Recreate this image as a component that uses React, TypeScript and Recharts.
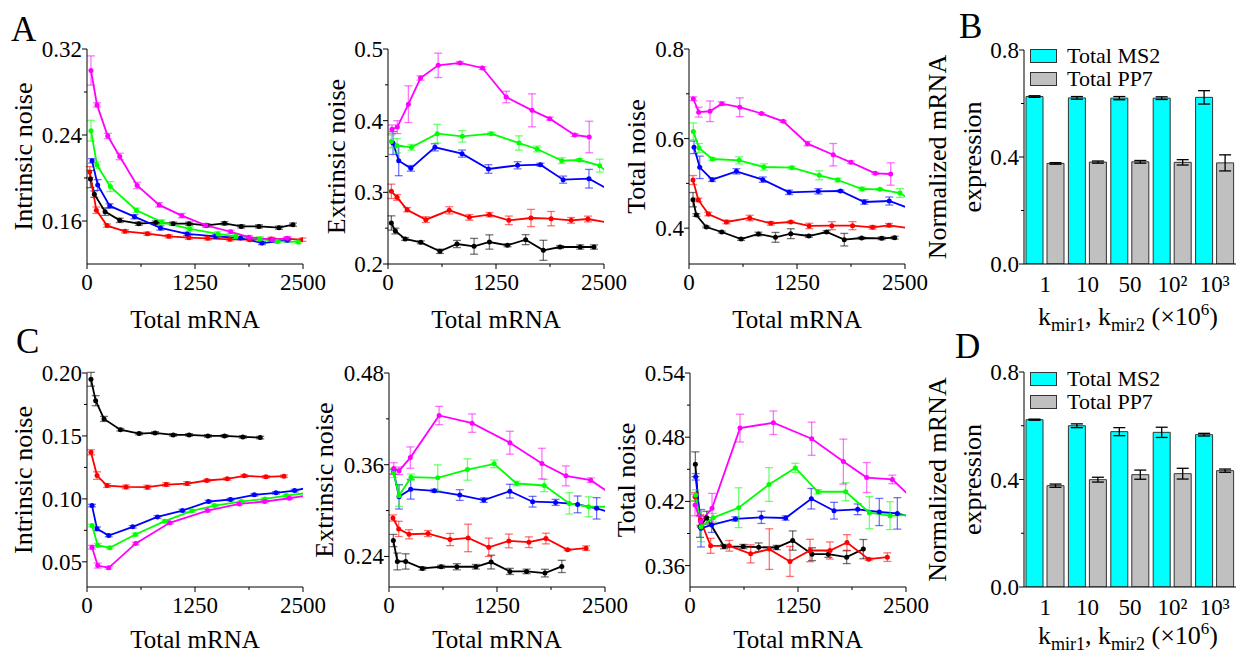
import React from 'react';
import { LineChart, Line, XAxis, YAxis, ErrorBar, BarChart, Bar, Legend } from 'recharts';

// [total mRNA, noise, error]
type Pt = [number, number, number];

const FONT = 'Liberation Serif, Tinos, DejaVu Serif, Times New Roman, serif';
const COL = { magenta: '#ff00ff', green: '#00ff00', blue: '#0000ff', red: '#ff0000', black: '#000000' };

const X_TICKS = [0, 625, 1250, 1875, 2500];
const X_MAJOR = [0, 1250, 2500];

// ---- A: intrinsic / extrinsic / total noise ----
const A1_MAGENTA: Pt[] = [[46, 0.300, 0.0136], [116, 0.268, 0.002], [240, 0.239, 0.0025], [379, 0.220, 0.003], [580, 0.193, 0.003], [835, 0.175, 0.002], [1097, 0.165, 0.002], [1376, 0.156, 0.0015], [1662, 0.150, 0.0015], [1874, 0.145, 0.0015], [2145, 0.1426, 0.0015], [2318, 0.1439, 0.0015]];
const A1_GREEN: Pt[] = [[46, 0.244, 0.0097], [116, 0.212, 0.003], [270, 0.192, 0.0046], [572, 0.170, 0.002], [866, 0.159, 0.002], [1190, 0.1526, 0.002], [1515, 0.148, 0.002], [1724, 0.1457, 0.002], [2002, 0.1433, 0.002], [2203, 0.141, 0.0015], [2446, 0.1405, 0.0015]];
const A1_BLUE: Pt[] = [[58, 0.216, 0.002], [124, 0.1935, 0.005], [263, 0.174, 0.002], [549, 0.164, 0.002], [850, 0.1535, 0.002], [1159, 0.148, 0.0015], [1488, 0.1457, 0.0015], [1777, 0.1442, 0.0015], [2025, 0.1395, 0.0015], [2318, 0.142, 0.0015]];
const A1_BLACK: Pt[] = [[40, 0.199, 0.008], [85, 0.185, 0.003], [209, 0.1687, 0.0035], [379, 0.1606, 0.002], [599, 0.1575, 0.0015], [796, 0.1585, 0.0015], [997, 0.1575, 0.0015], [1182, 0.1575, 0.0015], [1383, 0.156, 0.0015], [1592, 0.1578, 0.0015], [1785, 0.155, 0.0015], [1990, 0.155, 0.0015], [2222, 0.1538, 0.0015], [2384, 0.1566, 0.0015]];
const A1_RED: Pt[] = [[31, 0.2056, 0.005], [108, 0.170, 0.003], [232, 0.1557, 0.0015], [440, 0.1504, 0.0015], [699, 0.1482, 0.0015], [946, 0.1457, 0.0015], [1178, 0.1445, 0.0015], [1399, 0.1439, 0.0015], [1654, 0.143, 0.0015], [1886, 0.1426, 0.0015], [2133, 0.1433, 0.0015], [2318, 0.1433, 0.0015], [2493, 0.1426, 0.0015]];

const A2_MAGENTA: Pt[] = [[46, 0.388, 0.006], [108, 0.391, 0.009], [236, 0.423, 0.0256], [376, 0.4595, 0.003], [581, 0.4772, 0.017], [833, 0.4805, 0.002], [1093, 0.4735, 0.002], [1368, 0.433, 0.008], [1667, 0.4144, 0.023], [1872, 0.4028, 0.002], [2159, 0.380, 0.002], [2329, 0.3772, 0.022]];
const A2_GREEN: Pt[] = [[39, 0.371, 0.009], [105, 0.365, 0.01], [271, 0.3628, 0.004], [570, 0.3819, 0.013], [860, 0.3781, 0.008], [1194, 0.3819, 0.002], [1516, 0.3688, 0.01], [1725, 0.3605, 0.004], [2011, 0.3442, 0.004], [2217, 0.3451, 0.002], [2450, 0.3372, 0.009], [2560, 0.325, 0]];
const A2_BLUE: Pt[] = [[58, 0.3688, 0.016], [124, 0.3442, 0.021], [264, 0.3335, 0.004], [543, 0.3628, 0.005], [857, 0.354, 0.005], [1163, 0.3326, 0.006], [1500, 0.3377, 0.005], [1764, 0.3386, 0.002], [2027, 0.3177, 0.005], [2326, 0.319, 0.013], [2580, 0.302, 0]];
const A2_RED: Pt[] = [[39, 0.3014, 0.01], [105, 0.293, 0.004], [221, 0.2758, 0.003], [438, 0.2619, 0.004], [709, 0.2749, 0.005], [942, 0.2651, 0.004], [1174, 0.2688, 0.003], [1399, 0.2609, 0.006], [1655, 0.2642, 0.012], [1888, 0.2633, 0.01], [2120, 0.2609, 0.004], [2314, 0.2628, 0.004], [2580, 0.257, 0]];
const A2_BLACK: Pt[] = [[39, 0.2572, 0.01], [85, 0.246, 0.004], [198, 0.2349, 0.002], [380, 0.2302, 0.002], [601, 0.2177, 0.003], [798, 0.2279, 0.005], [996, 0.2247, 0.011], [1174, 0.2307, 0.01], [1384, 0.2261, 0.002], [1593, 0.234, 0.007], [1798, 0.2191, 0.014], [1992, 0.2237, 0.002], [2225, 0.2237, 0.003], [2384, 0.2237, 0.003]];

const A3_MAGENTA: Pt[] = [[50, 0.689, 0.004], [112, 0.659, 0.011], [243, 0.661, 0.023], [379, 0.678, 0.004], [587, 0.670, 0.021], [838, 0.656, 0.002], [1090, 0.6385, 0.002], [1372, 0.5887, 0.005], [1669, 0.564, 0.025], [1874, 0.547, 0.003], [2156, 0.5224, 0.002], [2334, 0.5209, 0.025]];
const A3_GREEN: Pt[] = [[50, 0.616, 0.019], [116, 0.579, 0.01], [270, 0.5544, 0.003], [580, 0.5514, 0.008], [866, 0.5366, 0.007], [1190, 0.5351, 0.003], [1507, 0.518, 0.01], [1723, 0.5075, 0.004], [2002, 0.4874, 0.004], [2210, 0.4867, 0.002], [2442, 0.4785, 0.01], [2560, 0.464, 0]];
const A3_BLUE: Pt[] = [[58, 0.5805, 0.014], [124, 0.5358, 0.025], [267, 0.5083, 0.004], [549, 0.5269, 0.006], [854, 0.5083, 0.006], [1159, 0.48, 0.005], [1496, 0.4822, 0.006], [1754, 0.483, 0.002], [2029, 0.4584, 0.005], [2318, 0.4606, 0.009], [2580, 0.442, 0]];
const A3_RED: Pt[] = [[46, 0.5075, 0.01], [108, 0.463, 0.004], [224, 0.4316, 0.004], [433, 0.4138, 0.004], [703, 0.4228, 0.006], [947, 0.4108, 0.004], [1178, 0.4138, 0.002], [1391, 0.4049, 0.006], [1654, 0.4056, 0.009], [1893, 0.4056, 0.009], [2125, 0.4019, 0.004], [2315, 0.4064, 0.004], [2580, 0.399, 0]];
const A3_BLACK: Pt[] = [[46, 0.4636, 0.016], [85, 0.4294, 0.003], [201, 0.4026, 0.002], [379, 0.3914, 0.002], [603, 0.3758, 0.003], [804, 0.387, 0.004], [1001, 0.3795, 0.011], [1178, 0.3877, 0.011], [1387, 0.3825, 0.003], [1592, 0.3914, 0.003], [1797, 0.3743, 0.014], [1998, 0.378, 0.002], [2230, 0.3773, 0.003], [2380, 0.3788, 0.003]];

// ---- C ----
const C1_BLACK: Pt[] = [[46, 0.195, 0.0055], [100, 0.178, 0.004], [197, 0.1635, 0.002], [386, 0.155, 0.001], [603, 0.1519, 0.001], [788, 0.1524, 0.001], [997, 0.1508, 0.001], [1182, 0.1508, 0.001], [1399, 0.150, 0.001], [1592, 0.150, 0.001], [1804, 0.1492, 0.001], [2005, 0.1487, 0.001]];
const C1_RED: Pt[] = [[46, 0.137, 0.002], [116, 0.1185, 0.003], [232, 0.1106, 0.0015], [452, 0.1095, 0.0015], [699, 0.1093, 0.0015], [916, 0.1114, 0.0015], [1159, 0.1122, 0.0015], [1387, 0.1146, 0.001], [1623, 0.1159, 0.001], [1820, 0.1183, 0.001], [2071, 0.1175, 0.001], [2280, 0.118, 0.001]];
const C1_BLUE: Pt[] = [[58, 0.0947, 0.001], [116, 0.0762, 0.0015], [251, 0.0709, 0.001], [529, 0.0778, 0.001], [815, 0.0857, 0.001], [1105, 0.0907, 0.001], [1406, 0.0979, 0.001], [1661, 0.0995, 0.001], [1936, 0.1032, 0.001], [2187, 0.1048, 0.001], [2403, 0.1066, 0.001], [2560, 0.1089, 0]];
const C1_GREEN: Pt[] = [[58, 0.0788, 0.001], [124, 0.0632, 0.0015], [263, 0.0611, 0.001], [560, 0.0717, 0.001], [900, 0.0823, 0.001], [1213, 0.0905, 0.001], [1476, 0.0947, 0.001], [1785, 0.0979, 0.001], [2060, 0.1, 0.001], [2307, 0.1026, 0.001], [2580, 0.105, 0]];
const C1_MAGENTA: Pt[] = [[58, 0.0616, 0.0015], [124, 0.047, 0.002], [251, 0.0452, 0.001], [564, 0.0646, 0.001], [958, 0.081, 0.001], [1395, 0.0907, 0.001], [1762, 0.096, 0.001], [2056, 0.0979, 0.001], [2342, 0.1005, 0.001], [2580, 0.103, 0]];

const C2_MAGENTA: Pt[] = [[54, 0.355, 0.0076], [116, 0.352, 0.005], [247, 0.3693, 0.014], [580, 0.4244, 0.012], [962, 0.4144, 0.012], [1399, 0.3888, 0.015], [1770, 0.3615, 0.02], [2048, 0.3454, 0.013], [2334, 0.3398, 0.003], [2580, 0.321, 0]];
const C2_GREEN: Pt[] = [[54, 0.3493, 0.006], [116, 0.3194, 0.014], [255, 0.3437, 0.004], [564, 0.3428, 0.017], [908, 0.3537, 0.014], [1217, 0.3611, 0.005], [1476, 0.3354, 0.003], [1797, 0.3328, 0.008], [2087, 0.3094, 0.014], [2311, 0.305, 0.013], [2580, 0.305, 0]];
const C2_BLUE: Pt[] = [[54, 0.3506, 0.003], [116, 0.318, 0.016], [251, 0.328, 0.013], [525, 0.3259, 0.002], [819, 0.3203, 0.007], [1097, 0.3137, 0.003], [1399, 0.3254, 0.009], [1662, 0.3116, 0.007], [1928, 0.3107, 0.004], [2183, 0.3081, 0.011], [2403, 0.3029, 0.014], [2580, 0.297, 0]];
const C2_RED: Pt[] = [[46, 0.2903, 0.004], [112, 0.276, 0.01], [232, 0.269, 0.006], [452, 0.2699, 0.004], [707, 0.2621, 0.008], [916, 0.2642, 0.018], [1155, 0.252, 0.012], [1387, 0.2603, 0.009], [1619, 0.2586, 0.007], [1816, 0.2634, 0.007], [2067, 0.2486, 0.001], [2280, 0.2508, 0.003]];
const C2_BLACK: Pt[] = [[50, 0.2608, 0.008], [97, 0.2334, 0.011], [193, 0.2334, 0.01], [386, 0.2243, 0.002], [603, 0.2265, 0.002], [785, 0.2265, 0.004], [1005, 0.2265, 0.003], [1182, 0.2326, 0.009], [1399, 0.2204, 0.004], [1592, 0.2204, 0.003], [1805, 0.2182, 0.005], [2000, 0.2269, 0.008]];

const C3_MAGENTA: Pt[] = [[58, 0.4166, 0.01], [123, 0.4011, 0.005], [255, 0.4135, 0.014], [579, 0.4885, 0.013], [965, 0.4935, 0.011], [1408, 0.4786, 0.0155], [1775, 0.4572, 0.021], [2045, 0.4423, 0.014], [2342, 0.4405, 0.004], [2580, 0.422, 0]];
const C3_GREEN: Pt[] = [[66, 0.4259, 0.005], [127, 0.3964, 0.014], [270, 0.4048, 0.004], [563, 0.4141, 0.0186], [914, 0.4358, 0.0158], [1219, 0.4513, 0.0043], [1481, 0.429, 0.002], [1802, 0.429, 0.0084], [2076, 0.4095, 0.015], [2315, 0.4067, 0.013], [2580, 0.4075, 0]];
const C3_BLUE: Pt[] = [[66, 0.443, 0.003], [127, 0.3949, 0.0175], [251, 0.398, 0.007], [525, 0.4036, 0.002], [826, 0.4051, 0.0057], [1107, 0.4045, 0.002], [1404, 0.4225, 0.0096], [1667, 0.4113, 0.0078], [1941, 0.4126, 0.005], [2191, 0.4101, 0.0127], [2400, 0.4088, 0.0147], [2580, 0.405, 0]];
const C3_BLACK: Pt[] = [[62, 0.4547, 0.0116], [116, 0.3964, 0.01], [193, 0.4048, 0.006], [394, 0.3778, 0.002], [617, 0.3778, 0.002], [795, 0.3772, 0.004], [1003, 0.3769, 0.002], [1188, 0.3834, 0.009], [1412, 0.3707, 0.006], [1601, 0.3707, 0.003], [1813, 0.3679, 0.006], [2006, 0.3754, 0.009]];
const C3_RED: Pt[] = [[58, 0.4243, 0.004], [120, 0.4026, 0.005], [239, 0.3785, 0.007], [455, 0.3785, 0.005], [702, 0.371, 0.0085], [918, 0.3754, 0.019], [1157, 0.3639, 0.014], [1389, 0.3741, 0.0105], [1620, 0.3741, 0.008], [1817, 0.3816, 0.0073], [2068, 0.366, 0.001], [2284, 0.3679, 0.004]];

// ---- B / D bars ----
const K_LABELS = ['1', '10', '50', '10²', '10³'];
const BAR_NAMES = ['Total MS2', 'Total PP7'];
const BAR_COLORS = ['#00ffff', '#c0c0c0'];
const B_MS2 = [0.626, 0.621, 0.620, 0.620, 0.623];
const B_MS2_ERR = [0.003, 0.005, 0.006, 0.005, 0.025];
const B_PP7 = [0.376, 0.381, 0.382, 0.380, 0.378];
const B_PP7_ERR = [0.003, 0.004, 0.005, 0.01, 0.03];
const D_MS2 = [0.6226, 0.600, 0.578, 0.5755, 0.5668];
const D_MS2_ERR = [0.002, 0.007, 0.015, 0.019, 0.005];
const D_PP7 = [0.377, 0.3994, 0.418, 0.4217, 0.4329];
const D_PP7_ERR = [0.006, 0.009, 0.017, 0.02, 0.006];

const set = (b: Pt[], r: Pt[], bl: Pt[], g: Pt[], m: Pt[]) => [
  { name: 'black', color: COL.black, pts: b },
  { name: 'red', color: COL.red, pts: r },
  { name: 'blue', color: COL.blue, pts: bl },
  { name: 'green', color: COL.green, pts: g },
  { name: 'magenta', color: COL.magenta, pts: m },
];

const toRows = (pts: Pt[]) => pts.map(([x, y, e]) => ({ x, y, e }));
const isIn = (v: number, list: number[]) => list.some((m) => Math.abs(m - v) < 1e-9);

const Y_W = 87;
const PLOT_W = 216;
const M_RIGHT = 30;

const makeYTick = (axisX: number, major: number[], digits: number) => (p: any) => {
  const v = p.payload.value;
  const maj = isIn(v, major);
  return (
    <g>
      <line x1={axisX - (maj ? 5 : 3)} x2={axisX} y1={p.y} y2={p.y} stroke="#000" />
      {maj && (
        <text x={axisX - 5} y={p.y + 8} textAnchor="end" fontSize={23} fontFamily={FONT} fill="#000">
          {v.toFixed(digits)}
        </text>
      )}
    </g>
  );
};

const makeXTick = (axisY: number) => (p: any) => {
  const v = p.payload.value;
  const maj = isIn(v, X_MAJOR);
  return (
    <g>
      <line x1={p.x} x2={p.x} y1={axisY} y2={axisY + (maj ? 5 : 3)} stroke="#000" />
      {maj && (
        <text x={p.x} y={axisY + 26} textAnchor="middle" fontSize={23} fontFamily={FONT} fill="#000">
          {v}
        </text>
      )}
    </g>
  );
};

interface PanelProps {
  left: number;
  top: number;
  mTop: number;
  plotH: number;
  xH: number;
  series: { name: string; color: string; pts: Pt[] }[];
  domain: [number, number];
  ticks: number[];
  major: number[];
  digits: number;
  yTitle: string;
  yTitleX: number;
  xTitleGap: number;
  letter?: { text: string; x: number; y: number };
}

function NoisePanel({ left, top, mTop, plotH, xH, series, domain, ticks, major, digits, yTitle, yTitleX, xTitleGap, letter }: PanelProps) {
  const axisY = mTop + plotH;
  return (
    <div style={{ position: 'absolute', left, top }}>
      <LineChart width={Y_W + PLOT_W + M_RIGHT} height={axisY + xH} margin={{ top: mTop, right: M_RIGHT, bottom: 0, left: 0 }}>
        <XAxis
          type="number"
          dataKey="x"
          domain={[0, 2500]}
          ticks={X_TICKS}
          interval={0}
          allowDataOverflow
          height={xH}
          tickLine={false}
          axisLine={{ stroke: '#000' }}
          tick={makeXTick(axisY)}
          label={{
            content: () => (
              <text x={Y_W + PLOT_W / 2} y={axisY + xTitleGap} textAnchor="middle" fontSize={25} fontFamily={FONT} fill="#000">
                Total mRNA
              </text>
            ),
          }}
        />
        <YAxis
          type="number"
          domain={domain}
          ticks={ticks}
          interval={0}
          allowDataOverflow
          width={Y_W}
          tickLine={false}
          axisLine={{ stroke: '#000' }}
          tick={makeYTick(Y_W, major, digits)}
          label={{
            content: () => (
              <g>
                <text
                  transform={`translate(${yTitleX},${mTop + plotH / 2}) rotate(-90)`}
                  textAnchor="middle"
                  dominantBaseline="central"
                  fontSize={26}
                  fontFamily={FONT}
                  fill="#000"
                >
                  {yTitle}
                </text>
                {letter && (
                  <text x={letter.x} y={letter.y} fontSize={35} fontFamily={FONT} fill="#000">
                    {letter.text}
                  </text>
                )}
              </g>
            ),
          }}
        />
        {series.map((s) => (
          <Line
            key={s.name}
            data={toRows(s.pts)}
            dataKey="y"
            stroke={s.color}
            strokeWidth={1.8}
            dot={{ r: 2.5, fill: s.color, stroke: s.color, strokeWidth: 0 }}
            activeDot={false}
            isAnimationActive={false}
          >
            <ErrorBar dataKey="e" direction="y" width={4} stroke={s.color} strokeOpacity={0.55} strokeWidth={1.3} />
          </Line>
        ))}
      </LineChart>
    </div>
  );
}

const renderLegend = () => (
  <div style={{ fontFamily: FONT, fontSize: 22, color: '#000' }}>
    {BAR_NAMES.map((n, i) => (
      <div key={n} style={{ display: 'flex', alignItems: 'center', height: 23, whiteSpace: 'nowrap' }}>
        <span style={{ display: 'inline-block', width: 25, height: 12, background: BAR_COLORS[i], border: '1px solid #333', marginRight: 10 }} />
        <span>{n}</span>
      </div>
    ))}
  </div>
);

interface BarProps {
  top: number;
  mTop: number;
  plotH: number;
  xH: number;
  ms2: number[];
  ms2Err: number[];
  pp7: number[];
  pp7Err: number[];
  legendTop: number;
  titleGap: number;
  letter: { text: string; x: number; y: number };
}

const BY_W = 124;
const B_PLOT_W = 212;

function ExpressionPanel({ top, mTop, plotH, xH, ms2, ms2Err, pp7, pp7Err, legendTop, titleGap, letter }: BarProps) {
  const axisY = mTop + plotH;
  const rows = K_LABELS.map((k, i) => ({ k, ms2: ms2[i], ms2e: ms2Err[i], pp7: pp7[i], pp7e: pp7Err[i] }));
  const cx = BY_W + B_PLOT_W / 2 - 2;
  const cy = mTop + plotH / 2;
  return (
    <div style={{ position: 'absolute', left: 900, top }}>
      <BarChart width={BY_W + B_PLOT_W + 3} height={axisY + xH} data={rows} margin={{ top: mTop, right: 3, bottom: 0, left: 0 }} barCategoryGap={2} barGap={4}>
        <XAxis
          dataKey="k"
          height={xH}
          tickLine={false}
          axisLine={{ stroke: '#000' }}
          interval={0}
          tick={(p: any) => (
            <text x={p.x} y={axisY + 28} textAnchor="middle" fontSize={23} fontFamily={FONT} fill="#000">
              {p.payload.value}
            </text>
          )}
          label={{
            content: () => (
              <text x={cx} y={axisY + titleGap} textAnchor="middle" fontSize={26} fontFamily={FONT} fill="#000">
                k<tspan fontSize={18} dy={6}>mir1</tspan>
                <tspan dy={-6}>, k</tspan>
                <tspan fontSize={18} dy={6}>mir2</tspan>
                <tspan dy={-6}> (×10</tspan>
                <tspan fontSize={17} dy={-10}>6</tspan>
                <tspan dy={10}>)</tspan>
              </text>
            ),
          }}
        />
        <YAxis
          type="number"
          domain={[0, 0.8]}
          ticks={[0, 0.2, 0.4, 0.6, 0.8]}
          interval={0}
          allowDataOverflow
          width={BY_W}
          tickLine={false}
          axisLine={{ stroke: '#000' }}
          tick={makeYTick(BY_W, [0, 0.4, 0.8], 1)}
          label={{
            content: () => (
              <g>
                <text transform={`translate(37,${cy}) rotate(-90)`} textAnchor="middle" dominantBaseline="central" fontSize={26} fontFamily={FONT} fill="#000">
                  Normalized mRNA
                </text>
                <text transform={`translate(72,${cy}) rotate(-90)`} textAnchor="middle" dominantBaseline="central" fontSize={26} fontFamily={FONT} fill="#000">
                  expression
                </text>
                <text x={letter.x} y={letter.y} fontSize={35} fontFamily={FONT} fill="#000">
                  {letter.text}
                </text>
              </g>
            ),
          }}
        />
        <Legend layout="vertical" align="center" verticalAlign="middle" wrapperStyle={{ left: 130, top: legendTop, width: 'auto' }} content={renderLegend} />
        <Bar dataKey="ms2" name={BAR_NAMES[0]} fill={BAR_COLORS[0]} stroke="#333" strokeWidth={1} isAnimationActive={false}>
          <ErrorBar dataKey="ms2e" direction="y" width={6} stroke="#000" strokeWidth={1.3} />
        </Bar>
        <Bar dataKey="pp7" name={BAR_NAMES[1]} fill={BAR_COLORS[1]} stroke="#333" strokeWidth={1} isAnimationActive={false}>
          <ErrorBar dataKey="pp7e" direction="y" width={6} stroke="#000" strokeWidth={1.3} />
        </Bar>
      </BarChart>
    </div>
  );
}

export default function App() {
  return (
    <div style={{ position: 'absolute', left: 0, top: 0, width: 1239, height: 654, background: '#fff', overflow: 'hidden' }}>
      <NoisePanel left={0} top={0} mTop={49} plotH={215} xH={80} series={set(A1_BLACK, A1_RED, A1_BLUE, A1_GREEN, A1_MAGENTA)} domain={[0.12, 0.32]} ticks={[0.16, 0.2, 0.24, 0.28, 0.32]} major={[0.16, 0.24, 0.32]} digits={2} yTitle="Intrinsic noise" yTitleX={23} xTitleGap={64} letter={{ text: 'A', x: 11, y: 41 }} />
      <NoisePanel left={301} top={0} mTop={49} plotH={215} xH={80} series={set(A2_BLACK, A2_RED, A2_BLUE, A2_GREEN, A2_MAGENTA)} domain={[0.2, 0.5]} ticks={[0.2, 0.25, 0.3, 0.35, 0.4, 0.45, 0.5]} major={[0.2, 0.3, 0.4, 0.5]} digits={1} yTitle="Extrinsic noise" yTitleX={35} xTitleGap={64} />
      <NoisePanel left={602} top={0} mTop={49} plotH={215} xH={80} series={set(A3_BLACK, A3_RED, A3_BLUE, A3_GREEN, A3_MAGENTA)} domain={[0.32, 0.8]} ticks={[0.4, 0.5, 0.6, 0.7, 0.8]} major={[0.4, 0.6, 0.8]} digits={1} yTitle="Total noise" yTitleX={34} xTitleGap={64} />
      <ExpressionPanel top={0} mTop={50} plotH={214} xH={80} ms2={B_MS2} ms2Err={B_MS2_ERR} pp7={B_PP7} pp7Err={B_PP7_ERR} legendTop={44} titleGap={61} letter={{ text: 'B', x: 59, y: 38 }} />

      <NoisePanel left={0} top={316} mTop={57} plotH={214} xH={67} series={set(C1_BLACK, C1_RED, C1_BLUE, C1_GREEN, C1_MAGENTA)} domain={[0.03, 0.2]} ticks={[0.05, 0.075, 0.1, 0.125, 0.15, 0.175, 0.2]} major={[0.05, 0.1, 0.15, 0.2]} digits={2} yTitle="Intrinsic noise" yTitleX={23} xTitleGap={61} letter={{ text: 'C', x: 16, y: 37 }} />
      <NoisePanel left={302} top={316} mTop={57} plotH={214} xH={67} series={set(C2_BLACK, C2_RED, C2_BLUE, C2_GREEN, C2_MAGENTA)} domain={[0.2, 0.48]} ticks={[0.24, 0.3, 0.36, 0.42, 0.48]} major={[0.24, 0.36, 0.48]} digits={2} yTitle="Extrinsic noise" yTitleX={22} xTitleGap={61} />
      <NoisePanel left={603} top={316} mTop={57} plotH={214} xH={67} series={set(C3_BLACK, C3_RED, C3_BLUE, C3_GREEN, C3_MAGENTA)} domain={[0.34, 0.54]} ticks={[0.36, 0.39, 0.42, 0.45, 0.48, 0.51, 0.54]} major={[0.36, 0.42, 0.48, 0.54]} digits={2} yTitle="Total noise" yTitleX={23} xTitleGap={61} />
      <ExpressionPanel top={316} mTop={56} plotH={215} xH={67} ms2={D_MS2} ms2Err={D_MS2_ERR} pp7={D_PP7} pp7Err={D_PP7_ERR} legendTop={51} titleGap={57} letter={{ text: 'D', x: 55, y: 42 }} />
    </div>
  );
}
